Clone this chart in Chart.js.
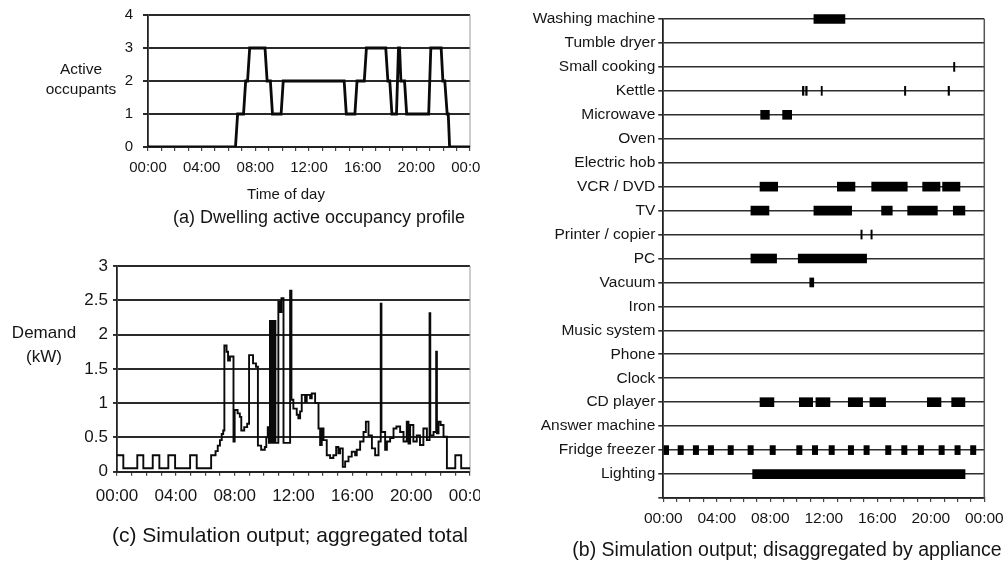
<!DOCTYPE html>
<html>
<head>
<meta charset="utf-8">
<title>Occupancy and electricity demand</title>
<script src="https://cdn.jsdelivr.net/npm/chart.js@4.4.1/dist/chart.umd.min.js"></script>
<style>
  body { margin: 0; background: #fff; }
  #fig { position: relative; width: 1007px; height: 563px; overflow: hidden;
         font-family: "Liberation Sans", Arial, sans-serif; color: #151515; }
  #fig canvas { position: absolute; }
  .txt { position: absolute; white-space: nowrap; text-align: center;
         transform: translate(-50%, -50%); }
</style>
</head>
<body>
<div id="fig">
  <canvas id="occChart" width="480" height="240" style="left:0;top:0"></canvas>
  <canvas id="demandChart" width="480" height="313" style="left:0;top:250px"></canvas>
  <canvas id="applianceChart" width="487" height="563" style="left:520px;top:0"></canvas>

  <div class="txt" style="left:81px;top:79px;font-size:15.5px;line-height:20px">Active<br>occupants</div>
  <div class="txt" style="left:286px;top:193px;font-size:15px">Time of day</div>
  <div class="txt" style="left:319px;top:217px;font-size:18px">(a) Dwelling active occupancy profile</div>

  <div class="txt" style="left:44px;top:345px;font-size:17px;line-height:24px">Demand<br>(kW)</div>
  <div class="txt" style="left:290px;top:535px;font-size:21px">(c) Simulation output; aggregated total</div>

  <div class="txt" style="left:787px;top:549px;font-size:19.5px">(b) Simulation output; disaggregated by appliance</div>
</div>

<script>
// active occupants, 10 minute steps (each change drawn from one step to the next)
const occHours = [0, 6.52, 6.68, 7.12, 7.28, 7.42, 7.58, 8.72, 8.88, 9.12, 9.28, 9.92, 10.08,
  14.62, 14.78, 15.42, 15.58, 16.12, 16.28, 17.72, 17.88, 18.02, 18.18, 18.52, 18.67, 18.75,
  18.85, 19.12, 19.28, 20.92, 21.08, 21.85, 21.98, 22.12, 22.3, 22.38, 22.48, 24];
const occCount = [0, 0, 1, 1, 2, 2, 3, 3, 2, 2, 1, 1, 2,
  2, 1, 1, 2, 2, 3, 3, 2, 2, 1, 1, 3, 3,
  2, 2, 1, 1, 3, 3, 2, 2, 1, 1, 0, 0];

// total demand in kW, each value holds until the next time
const demandHours = [0, 0.43, 1.38, 1.79, 2.43, 2.88, 3.49, 3.95, 4.97, 5.42, 6.40, 6.70, 6.85,
  7.00, 7.12, 7.22, 7.30, 7.45, 7.55, 7.68, 7.92, 8.00, 8.20, 8.35, 8.45, 8.65, 8.85, 8.98,
  9.25, 9.45, 9.58, 9.80, 10.05, 10.15, 10.25, 10.33, 10.40, 10.52, 10.64, 10.77, 10.97,
  11.10, 11.18, 11.32, 11.77, 11.86, 11.99, 12.22, 12.33, 12.45, 12.56, 12.79, 12.90, 13.13,
  13.24, 13.47, 13.70, 13.81, 13.92, 14.04, 14.26, 14.49, 14.71, 14.90, 15.05, 15.17, 15.35,
  15.51, 15.74, 15.96, 16.19, 16.30, 16.53, 16.76, 16.92, 17.10, 17.33, 17.55, 17.78, 17.93,
  17.98, 18.23, 18.35, 18.57, 18.80, 19.00, 19.25, 19.48, 19.70, 19.82, 19.93, 20.15, 20.38,
  20.60, 20.83, 21.07, 21.25, 21.30, 21.52, 21.70, 21.75, 21.86, 22.00, 22.20, 22.43, 23.00,
  23.40, 24];
const demandKw = [0.24, 0.05, 0.24, 0.05, 0.24, 0.05, 0.24, 0.05, 0.24, 0.05, 0.24, 0.30, 0.38,
  0.46, 0.55, 0.60, 1.84, 1.75, 1.62, 1.68, 0.44, 0.90, 0.85, 0.80, 0.60, 0.65, 0.70, 1.70,
  1.58, 1.53, 0.38, 0.32, 0.36, 0.50, 0.65, 0.42, 2.20, 0.42, 2.20, 0.42, 2.48,
  2.33, 2.53, 0.42, 2.64, 1.05, 0.92, 0.83, 0.78, 0.88, 1.12, 1.02, 1.12, 1.07,
  1.14, 1.00, 0.63, 0.39, 0.63, 0.46, 0.24, 0.20, 0.24, 0.36, 0.27, 0.34, 0.07,
  0.15, 0.22, 0.29, 0.24, 0.32, 0.44, 0.58, 0.73, 0.53, 0.34, 0.24, 0.44, 2.45,
  0.58, 0.32, 0.44, 0.49, 0.63, 0.66, 0.58, 0.44, 0.73, 0.41, 0.68, 0.44, 0.53,
  0.39, 0.63, 0.46, 2.31, 0.53, 0.58, 1.75, 0.56, 0.73, 0.68, 0.51, 0.05, 0.24,
  0.05, 0.05];

// appliance on-periods, [start, end] in hours
const appliances = ['Washing machine', 'Tumble dryer', 'Small cooking', 'Kettle', 'Microwave',
  'Oven', 'Electric hob', 'VCR / DVD', 'TV', 'Printer / copier', 'PC', 'Vacuum', 'Iron',
  'Music system', 'Phone', 'Clock', 'CD player', 'Answer machine', 'Fridge freezer', 'Lighting'];
const washingOn = [[11.26, 13.58]];
const tumbleOn = [];
const smallCookingOn = [[21.7, 21.8]];
const kettleOn = [[10.4, 10.52], [10.64, 10.76], [11.8, 11.89], [18.03, 18.13], [21.29, 21.4]];
const microwaveOn = [[7.28, 7.93], [8.92, 9.6]];
const ovenOn = [];
const hobOn = [];
const vcrOn = [[7.23, 8.55], [13.01, 14.33], [15.58, 18.24], [19.39, 20.69], [20.88, 22.18]];
const tvOn = [[6.55, 7.9], [11.26, 14.08], [16.32, 17.12], [18.27, 20.49], [21.68, 22.55]];
const printerOn = [[14.77, 14.87], [15.52, 15.62]];
const pcOn = [[6.55, 8.47], [10.09, 15.2]];
const vacuumOn = [[10.95, 11.25]];
const ironOn = [];
const musicOn = [];
const phoneOn = [];
const clockOn = [];
const cdOn = [[7.23, 8.27], [10.17, 11.17], [11.41, 12.46], [13.83, 14.9], [15.45, 16.62],
  [19.74, 20.76], [21.56, 22.55]];
const answerOn = [];
const fridgeOn = [[0, 0.4], [1.1, 1.5], [2.24, 2.64], [3.36, 3.76], [4.84, 5.24], [6.33, 6.73],
  [7.98, 8.38], [9.97, 10.37], [11.14, 11.54], [12.39, 12.79], [13.83, 14.23], [15.0, 15.4],
  [16.62, 17.02], [17.82, 18.22], [19.06, 19.46], [20.61, 21.01], [21.8, 22.2], [22.97, 23.37]];
const lightingOn = [[6.68, 22.56]];

const applianceOn = [washingOn, tumbleOn, smallCookingOn, kettleOn, microwaveOn, ovenOn, hobOn,
  vcrOn, tvOn, printerOn, pcOn, vacuumOn, ironOn, musicOn, phoneOn, clockOn, cdOn, answerOn,
  fridgeOn, lightingOn];

Chart.defaults.font.family = '"Liberation Sans", Arial, sans-serif';
Chart.defaults.color = '#151515';

function hourLabel(h) {
  return String(h % 24).padStart(2, '0') + ':00';
}

// thin border on the right side of the plot
const rightEdge = {
  id: 'rightEdge',
  beforeDatasetsDraw(chart, args, opts) {
    const { ctx, chartArea: a } = chart;
    ctx.save();
    ctx.strokeStyle = opts.color || '#999';
    ctx.lineWidth = opts.width || 1;
    ctx.beginPath();
    ctx.moveTo(a.right, a.top);
    ctx.lineTo(a.right, a.bottom);
    ctx.stroke();
    ctx.restore();
  }
};

function timeAxis(height, fontSize, pad) {
  return {
    type: 'linear', min: 0, max: 24,
    afterFit: function (s) { s.height = height; s.paddingLeft = 0; s.paddingRight = 0; },
    ticks: {
      stepSize: 1, autoSkip: false, maxRotation: 0, padding: pad,
      font: { size: fontSize },
      callback: function (v) { return v % 4 === 0 ? hourLabel(v) : ''; }
    },
    grid: { drawOnChartArea: false, tickLength: 4, color: '#444', lineWidth: 1.2 },
    border: { color: '#222', width: 1.8 }
  };
}

const common = {
  responsive: false,
  animation: false,
  events: [],
  plugins: { legend: { display: false }, tooltip: { enabled: false } }
};

// (a) occupancy profile
new Chart(document.getElementById('occChart'), {
  type: 'line',
  data: {
    datasets: [{
      data: occHours.map(function (h, i) { return { x: h, y: occCount[i] }; }),
      borderColor: '#0a0a0a', borderWidth: 2.8, pointRadius: 0, tension: 0
    }]
  },
  options: Object.assign({}, common, {
    layout: { padding: { left: 0, top: 15, right: 10, bottom: 0 } },
    scales: {
      x: timeAxis(93, 15, 8),
      y: {
        min: 0, max: 4,
        afterFit: function (s) { s.width = 148; s.paddingTop = 0; s.paddingBottom = 0; },
        ticks: { stepSize: 1, padding: 10, font: { size: 15 } },
        grid: { color: '#2a2a2a', lineWidth: 2, tickLength: 5 },
        border: { color: '#222', width: 1.8 }
      }
    },
    plugins: Object.assign({}, common.plugins, { rightEdge: { color: '#999', width: 1 } })
  }),
  plugins: [rightEdge]
});

// (c) aggregated demand
new Chart(document.getElementById('demandChart'), {
  type: 'line',
  data: {
    datasets: [{
      data: demandHours.map(function (h, i) { return { x: h, y: demandKw[i] }; }),
      borderColor: '#0a0a0a', borderWidth: 1.9, pointRadius: 0, stepped: 'before'
    }]
  },
  options: Object.assign({}, common, {
    layout: { padding: { left: 0, top: 16, right: 10, bottom: 0 } },
    scales: {
      x: timeAxis(91.3, 17, 10),
      y: {
        min: 0, max: 3,
        afterFit: function (s) { s.width = 117; s.paddingTop = 0; s.paddingBottom = 0; },
        ticks: { stepSize: 0.5, padding: 5, font: { size: 17 },
                 callback: function (v) { return String(v); } },
        grid: { color: '#2a2a2a', lineWidth: 1.9, tickLength: 4 },
        border: { color: '#222', width: 1.8 }
      }
    },
    plugins: Object.assign({}, common.plugins, { rightEdge: { color: '#999', width: 1 } })
  }),
  plugins: [rightEdge]
});

// (b) appliance on-periods
const bars = [];
applianceOn.forEach(function (periods, i) {
  periods.forEach(function (p) { bars.push({ x: p, y: appliances[i] }); });
});

new Chart(document.getElementById('applianceChart'), {
  type: 'bar',
  data: {
    labels: appliances.concat(['']),
    datasets: [{
      data: bars, backgroundColor: '#000', borderWidth: 0,
      barThickness: 9, clip: false
    }]
  },
  options: Object.assign({}, common, {
    indexAxis: 'y',
    layout: { padding: { left: 0, top: 19, right: 22.7, bottom: 0 } },
    scales: {
      x: timeAxis(65, 15.5, 7),
      y: {
        type: 'category', offset: false,
        afterFit: function (s) { s.width = 143.3; s.paddingTop = 0; s.paddingBottom = 0; },
        ticks: { autoSkip: false, padding: 3, font: { size: 15.5 } },
        grid: { offset: false, color: '#2e2e2e', lineWidth: 1.6, tickLength: 5 },
        border: { color: '#222', width: 1.8 }
      }
    },
    plugins: Object.assign({}, common.plugins, { rightEdge: { color: '#555', width: 1.5 } })
  }),
  plugins: [rightEdge]
});
</script>
</body>
</html>
